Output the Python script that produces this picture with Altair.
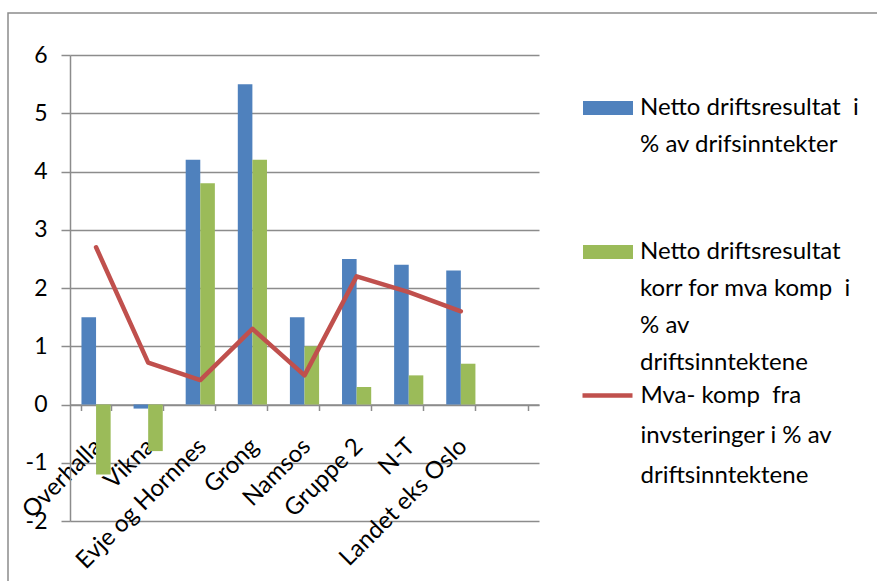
import altair as alt
import pandas as pd

categories = ["Overhalla", "Vikna", "Evje og Hornnes", "Grong", "Namsos",
              "Gruppe 2", "N-T", "Landet eks Oslo"]
x_domain = categories + [" "]

# legend texts, one entry per printed line
legend_blue = ["Netto driftsresultat\u00a0 i", "% av drifsinntekter"]
legend_green = ["Netto driftsresultat", "korr for mva komp\u00a0 i", "% av", "driftsinntektene"]
legend_red = ["Mva- komp\u00a0 fra", "invsteringer i % av", "driftsinntektene"]

netto = [1.5, -0.07, 4.2, 5.5, 1.5, 2.5, 2.4, 2.3]
netto_korr = [-1.2, -0.8, 3.8, 4.2, 1.0, 0.3, 0.5, 0.7]
mva_komp = [2.7, 0.72, 0.42, 1.3, 0.5, 2.2, 1.93, 1.6]
y_ticks = [-2, -1, 0, 1, 2, 3, 4, 5, 6]

blue_df = pd.DataFrame({"kommune": categories, "serie": legend_blue[0], "verdi": netto})
green_df = pd.DataFrame({"kommune": categories, "serie": legend_green[0], "verdi": netto_korr})
red_df = pd.DataFrame({"kommune": categories, "serie": legend_red[0], "verdi": mva_komp})

W, H = 469, 466
FONT = "Lato"
GRAY = "#8c8c8c"
BLUE, GREEN, RED = "#4F81BD", "#9BBB59", "#C0504D"

x_scale = alt.Scale(domain=x_domain, paddingInner=0.44, paddingOuter=0.22)
y_scale = alt.Scale(domain=[-2, 6], nice=False, zero=False)
off_scale = alt.Scale(domain=[legend_blue[0], legend_green[0]], paddingInner=0, paddingOuter=0)

y_axis = alt.Axis(values=y_ticks, title=None, grid=True, gridColor=GRAY, gridWidth=1.5,
                  domainColor=GRAY, domainWidth=1.5, tickColor=GRAY, tickWidth=1.5,
                  tickSize=9, labelPadding=14, labelFont=FONT, labelFontSize=23,
                  labelColor="#000", labelExpr="datum.value + ''")
x_axis = alt.Axis(title=None, offset=-(H * 2 / 8), domainColor=GRAY, domainWidth=1.5,
                  tickColor=GRAY, tickWidth=1.5, tickSize=6, tickBand="extent",
                  labelAngle=-45, labelAlign="right", labelBaseline="middle",
                  labelPadding=32, labelOffset=2, labelFont=FONT, labelFontSize=24,
                  labelColor="#000", grid=False)

legend_common = dict(title=None, orient="none", labelFont=FONT, labelFontSize=24,
                     labelColor="#000", labelLimit=0,
                     labelBaseline="middle", padding=0, rowPadding=-4)
rect_symbol = dict(symbolType="M-1,-0.28H1V0.28H-1Z", symbolSize=2500, symbolStrokeWidth=0,
                   labelOffset=7, legendX=513)

frame = alt.Chart(alt.Data(values=[{}])).mark_rect(
    fill=None, stroke=GRAY, strokeWidth=1.5
).encode(x=alt.value(-62), y=alt.value(-42), x2=alt.value(W + 400), y2=alt.value(H + 200))

blue_bars = alt.Chart(blue_df).mark_bar().encode(
    x=alt.X("kommune:N", scale=x_scale, axis=x_axis, sort=x_domain),
    xOffset=alt.XOffset("serie:N", scale=off_scale),
    y=alt.Y("verdi:Q", scale=y_scale, axis=y_axis),
    color=alt.Color("serie:N",
                    scale=alt.Scale(domain=legend_blue,
                                    range=[BLUE] + ["transparent"] * (len(legend_blue) - 1)),
                    legend=alt.Legend(legendY=28, **rect_symbol, **legend_common)),
)

green_bars = alt.Chart(green_df).mark_bar().encode(
    x=alt.X("kommune:N", scale=x_scale, sort=x_domain),
    xOffset=alt.XOffset("serie:N", scale=off_scale),
    y=alt.Y("verdi:Q", scale=y_scale),
    fill=alt.Fill("serie:N",
                  scale=alt.Scale(domain=legend_green,
                                  range=[GREEN] + ["transparent"] * (len(legend_green) - 1)),
                  legend=alt.Legend(legendY=172, **rect_symbol, **legend_common)),
)

red_line = alt.Chart(red_df).mark_line(strokeWidth=4.5, strokeCap="round",
                                       strokeJoin="round").encode(
    x=alt.X("kommune:N", scale=x_scale, sort=x_domain),
    y=alt.Y("verdi:Q", scale=y_scale),
    stroke=alt.Stroke("serie:N",
                      scale=alt.Scale(domain=legend_red,
                                      range=[RED] + ["transparent"] * (len(legend_red) - 1)),
                      legend=alt.Legend(legendY=313, legendX=510, labelOffset=5.5,
                                        symbolType="stroke", symbolSize=2500,
                                        symbolStrokeWidth=4.5, **legend_common)),
)

chart = alt.layer(frame, blue_bars, green_bars, red_line).properties(
    width=W, height=H,
    autosize=alt.AutoSizeParams(type="none"),
    padding={"left": 70, "top": 55, "right": 877 - 70 - W, "bottom": 581 - 55 - H},
    background="white",
).configure_view(stroke=None)

chart.save("out.html", embed_options={"renderer": "svg", "actions": False})
